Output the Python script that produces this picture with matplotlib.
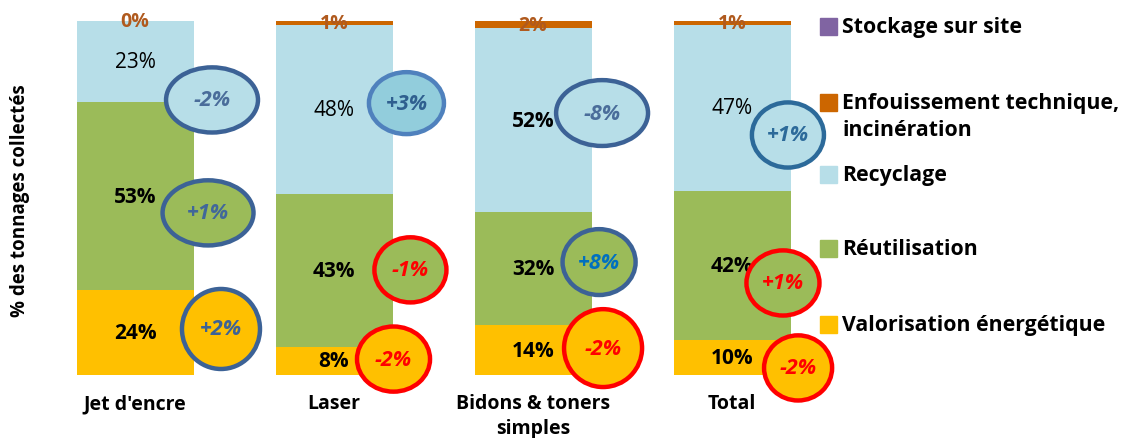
import matplotlib.pyplot as plt
from matplotlib.patches import Ellipse, Rectangle

plt.rcParams['font.family'] = ['Open Sans', 'DejaVu Sans']

categories = ["Jet d'encre", "Laser", "Bidons & toners\nsimples", "Total"]
series_names = ["Valorisation énergétique", "Réutilisation", "Recyclage",
                "Enfouissement technique,\nincinération", "Stockage sur site"]
valorisation = [24, 8, 14, 10]
reutilisation = [53, 43, 32, 42]
recyclage = [23, 48, 52, 47]
enfouissement = [0, 1, 2, 1]
stockage = [0, 0, 0, 0]

# evolution annotations: (category index, series index, label)
deltas = [
    (0, 2, "-2%"), (0, 1, "+1%"), (0, 0, "+2%"),
    (1, 2, "+3%"), (1, 1, "-1%"), (1, 0, "-2%"),
    (2, 2, "-8%"), (2, 1, "+8%"), (2, 0, "-2%"),
    (3, 2, "+1%"), (3, 1, "+1%"), (3, 0, "-2%"),
]

colors = ["#ffc000", "#9bbb59", "#b7dee8", "#cc6600", "#8064a2"]
label_weights = [["bold"] * 4, ["bold"] * 4, ["normal", "normal", "bold", "normal"]]

# ellipse placement (dx from bar center, y, width, height), edge, face, text colour
ell_style = [
    (0.387, 77.7, 0.462, 18.4, "#3c6296", "#b7dee8", "#4a6d9a"),
    (0.367, 45.8, 0.457, 18.4, "#3c6296", "#9bbb59", "#41679a"),
    (0.432, 13.0, 0.392, 22.6, "#3c6296", "#ffc000", "#3c6296"),
    (0.364, 76.8, 0.377, 17.5, "#4f81bd", "#92cddc", "#2f5f8f"),
    (0.384, 29.7, 0.362, 18.4, "#ff0000", "#9bbb59", "#ff0000"),
    (0.299, 4.5, 0.367, 18.4, "#ff0000", "#ffc000", "#ff0000"),
    (0.347, 74.0, 0.462, 18.6, "#3c6296", "#b7dee8", "#4a6d9a"),
    (0.332, 31.9, 0.367, 18.6, "#3c6296", "#9bbb59", "#0070c0"),
    (0.352, 7.6, 0.392, 22.0, "#ff0000", "#ffc000", "#ff0000"),
    (0.281, 67.8, 0.362, 18.4, "#2c6a9a", "#b7dee8", "#2c6a9a"),
    (0.256, 26.0, 0.367, 18.4, "#ff0000", "#9bbb59", "#ff0000"),
    (0.332, 2.0, 0.342, 18.4, "#ff0000", "#ffc000", "#ff0000"),
]

fig = plt.figure(figsize=(11.23, 4.39), dpi=100)
ax = fig.add_axes([0.0139, 0.1435, 0.7354, 0.8064])

data = [valorisation, reutilisation, recyclage, enfouissement, stockage]
x = list(range(len(categories)))
bottom = [0] * len(categories)
for i, vals in enumerate(data):
    ax.bar(x, vals, width=0.588, bottom=bottom, color=colors[i], linewidth=0)
    for j, v in enumerate(vals):
        yc = bottom[j] + v / 2
        if i < 3:
            ax.text(j, yc, f"{v}%", ha='center', va='center', fontsize=15,
                    weight=label_weights[i][j], color='black')
        elif i == 3:
            ax.text(j, yc, f"{v}%", ha='center', va='center', fontsize=14,
                    weight='bold', color='#b05a1e')
    bottom = [b + v for b, v in zip(bottom, vals)]

for (ci, si, lab), (dx, yc, w, h, ec, fc, tc) in zip(deltas, ell_style):
    e = Ellipse((ci + dx, yc), w, h, facecolor=fc, edgecolor=ec, linewidth=3.2,
                clip_on=False, zorder=5)
    ax.add_patch(e)
    ax.text(ci + dx, yc, lab, ha='center', va='center', fontsize=15.5,
            style='italic', weight='bold', color=tc, zorder=6)

for j, cat in enumerate(categories):
    ax.text(j, -5.2, cat, ha='center', va='top', fontsize=14, weight='bold',
            linespacing=1.3)

ax.set_xlim(-0.6, 3.55)
ax.set_ylim(0, 100)
ax.axis('off')

fig.text(0.0178, 0.544, "% des tonnages collectés", rotation=90, ha='center',
         va='center', fontsize=13.5, weight='bold')

# legend drawn by hand, top series first
W, H = 1123, 439
leg_y = [27, 103, 175, 249, 325]
for k, idx in enumerate(reversed(range(len(series_names)))):
    yc = leg_y[k]
    fig.patches.append(Rectangle((820 / W, 1 - (yc + 8.5) / H), 17 / W, 17 / H,
                                 transform=fig.transFigure, color=colors[idx]))
    fig.text(842 / W, 1 - (yc - 10) / H, series_names[idx], ha='left', va='top',
             fontsize=15.3, weight='bold', linespacing=1.38)

fig.savefig("out.png", dpi=100)
